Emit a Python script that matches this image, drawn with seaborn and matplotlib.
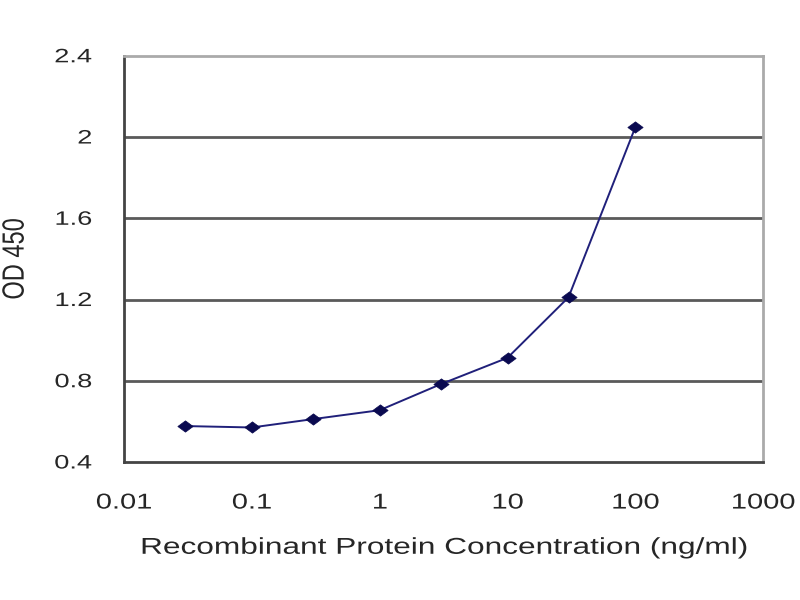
import matplotlib
matplotlib.use("Agg")
import matplotlib.pyplot as plt
import seaborn as sns
import pandas as pd
from matplotlib.ticker import FixedLocator, FixedFormatter, NullLocator
from matplotlib.patheffects import AbstractPathEffect
from matplotlib.transforms import Affine2D
from matplotlib.path import Path

concentration = [0.03, 0.1, 0.3, 1, 3, 10, 30, 100]
od450 = [0.577, 0.570, 0.611, 0.655, 0.783, 0.913, 1.211, 2.049]
x_ticks = [0.01, 0.1, 1, 10, 100, 1000]
x_tick_labels = ["0.01", "0.1", "1", "10", "100", "1000"]
y_ticks = [0.4, 0.8, 1.2, 1.6, 2.0, 2.4]
y_tick_labels = ["0.4", "0.8", "1.2", "1.6", "2", "2.4"]


class Stretch(AbstractPathEffect):
    """Stretch text glyphs in their own coordinates (the reference image is
    horizontally stretched)."""

    def __init__(self, sx=1.0, sy=1.0, ax_anchor="center"):
        super().__init__()
        self.sx, self.sy, self.ax_anchor = sx, sy, ax_anchor

    def draw_path(self, renderer, gc, tpath, affine, rgbFace=None):
        v = tpath.vertices
        if len(v):
            x0, x1 = v[:, 0].min(), v[:, 0].max()
            y0, y1 = v[:, 1].min(), v[:, 1].max()
        else:
            x0 = x1 = y0 = y1 = 0
        cx = {"center": (x0 + x1) / 2, "right": x1, "left": x0}[self.ax_anchor]
        cy = (y0 + y1) / 2
        a = (Affine2D().translate(-cx, -cy).scale(self.sx, self.sy)
             .translate(cx, cy) + affine)
        renderer.draw_path(gc, tpath, a, rgbFace)


sns.set_style("white")
plt.rcParams['font.family'] = ['Liberation Sans', 'DejaVu Sans']

df = pd.DataFrame({"conc": concentration, "od": od450})

fig = plt.figure(figsize=(8, 6), dpi=100)
ax = fig.add_axes([0.155, 0.23, 0.799, 0.677])

ax.set_xscale("log")
for y in y_ticks[1:-1]:
    ax.axhline(y, color="#5a5a5a", linewidth=2.0, zorder=1)

diamond = Path([(-1.35, 0), (0, 1), (1.35, 0), (0, -1), (-1.35, 0)],
               [Path.MOVETO, Path.LINETO, Path.LINETO, Path.LINETO, Path.CLOSEPOLY])

sns.lineplot(data=df, x="conc", y="od", ax=ax, color="#20207a", linewidth=1.4,
             marker=diamond, markersize=11, markeredgecolor="#0a0a50",
             markerfacecolor="#0a0a50", markeredgewidth=0.5, zorder=3)

ax.set_xlim(0.01, 1000)
ax.set_ylim(0.4, 2.4)
ax.xaxis.set_major_locator(FixedLocator(x_ticks))
ax.xaxis.set_major_formatter(FixedFormatter(x_tick_labels))
ax.xaxis.set_minor_locator(NullLocator())
ax.yaxis.set_major_locator(FixedLocator(y_ticks))
ax.yaxis.set_major_formatter(FixedFormatter(y_tick_labels))

for side in ["left", "bottom"]:
    ax.spines[side].set_color("#444444")
    ax.spines[side].set_linewidth(2.0)
for side in ["top", "right"]:
    ax.spines[side].set_color("#aaaaaa")
    ax.spines[side].set_linewidth(2.0)

ax.tick_params(axis="both", which="major", direction="inout", length=6,
               width=1.2, color="#444444", labelcolor="#262626")
ax.tick_params(axis="x", labelsize=15.5, pad=19)
ax.tick_params(axis="y", labelsize=14, pad=20)

for lab in ax.get_xticklabels():
    lab.set_path_effects([Stretch(sx=1.35)])
for lab in ax.get_yticklabels():
    lab.set_path_effects([Stretch(sx=1.4, ax_anchor="right")])

xl = ax.set_xlabel("Recombinant Protein Concentration (ng/ml)", fontsize=16.5,
                   color="#262626", labelpad=16)
xl.set_path_effects([Stretch(sx=1.38)])
yl = ax.set_ylabel("OD 450", fontsize=17, color="#262626")
ax.yaxis.set_label_coords(-0.153, 0.5)
yl.set_path_effects([Stretch(sy=1.3)])

fig.savefig("out.png", dpi=100)
